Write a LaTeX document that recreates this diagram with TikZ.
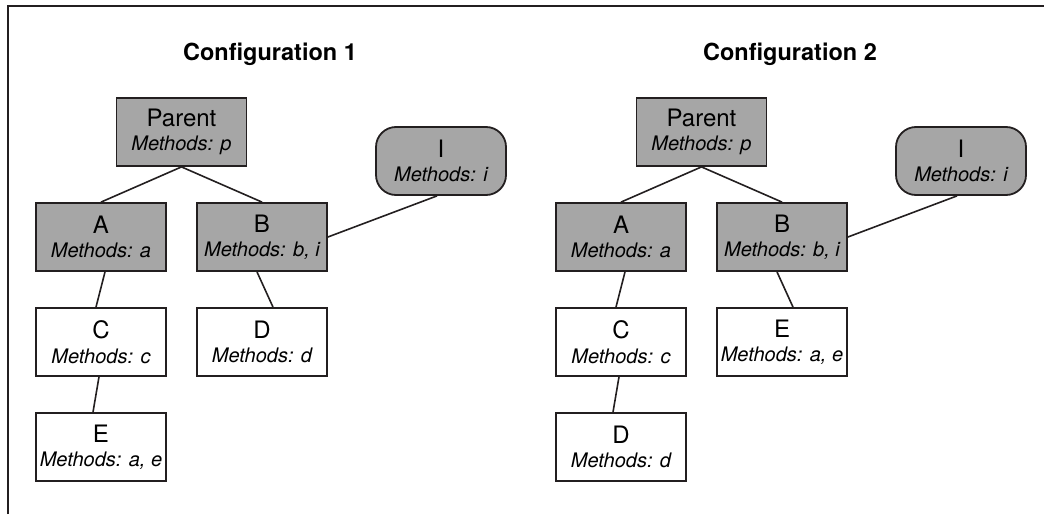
\documentclass[tikz,border=0pt]{standalone}
\usepackage{fontspec}
\setmainfont{TeX Gyre Heros}
\usetikzlibrary{shapes.geometric}
\definecolor{boxgray}{RGB}{166,166,166}
\definecolor{inkline}{RGB}{35,31,32}
\newcommand{\namefont}{\fontsize{24}{24.5}\selectfont}
\newcommand{\methfont}{\fontsize{20}{24.5}\selectfont\itshape}
\tikzstyle{block} = [rectangle, minimum width=130pt, minimum height=68pt, inner sep=2pt, align=center, draw=inkline, line width=1.8pt, font=\namefont]
\tikzstyle{shaded} = [block, fill=boxgray]
\tikzstyle{plain} = [block, fill=white]
\tikzstyle{iface} = [block, fill=boxgray, rounded corners=20pt]
\tikzstyle{title} = [anchor=base, font=\fontsize{23.5}{24}\selectfont\bfseries]
\tikzstyle{link} = [draw=inkline, line width=1.6pt]

\begin{document}
\begin{tikzpicture}[x=1pt, y=-1pt, node distance=105pt]
\useasboundingbox (0,0) rectangle (1044,514);
\draw [inkline, line width=1.8pt] (8,514) -- (8,6) -- (1044,6);

% Configuration 1
\node (titleone) [title] at (270,60) {Configuration 1};
\node (parentone) [shaded] at (181.5,132) {Parent\\{\methfont Methods: p}};
\node (aone) [shaded, below of=parentone, xshift=-80.5pt] {A\\{\methfont Methods: a}};
\node (bone) [shaded, node distance=161pt, right of=aone] {B\\{\methfont Methods: b, i}};
\node (ione) [iface, node distance=179pt, right of=bone, yshift=76pt] {I\\{\methfont Methods: i}};
\node (cone) [plain, below of=aone] {C\\{\methfont Methods: c}};
\node (done) [plain, below of=bone] {D\\{\methfont Methods: d}};
\node (eone) [plain, below of=cone] {E\\{\methfont Methods: a, e}};

\draw [link] (parentone.south) -- (aone.north);
\draw [link] (parentone.south) -- (bone.north);
\draw [link] (bone.east) -- ([xshift=-4pt]ione.south);
\draw [link] ([xshift=4pt]aone.south) -- ([xshift=-5pt]cone.north);
\draw [link] ([xshift=-2pt]cone.south) -- ([xshift=-8pt]eone.north);
\draw [link] ([xshift=-5pt]bone.south) -- ([xshift=11pt]done.north);

% Configuration 2
\node (titletwo) [title] at (790,60) {Configuration 2};
\node (parenttwo) [shaded] at (701.5,132) {Parent\\{\methfont Methods: p}};
\node (atwo) [shaded, below of=parenttwo, xshift=-80.5pt] {A\\{\methfont Methods: a}};
\node (btwo) [shaded, node distance=161pt, right of=atwo] {B\\{\methfont Methods: b, i}};
\node (itwo) [iface, node distance=179pt, right of=btwo, yshift=76pt] {I\\{\methfont Methods: i}};
\node (ctwo) [plain, below of=atwo] {C\\{\methfont Methods: c}};
\node (etwo) [plain, below of=btwo] {E\\{\methfont Methods: a, e}};
\node (dtwo) [plain, below of=ctwo] {D\\{\methfont Methods: d}};

\draw [link] (parenttwo.south) -- (atwo.north);
\draw [link] (parenttwo.south) -- (btwo.north);
\draw [link] (btwo.east) -- ([xshift=-4pt]itwo.south);
\draw [link] ([xshift=4pt]atwo.south) -- ([xshift=-5pt]ctwo.north);
\draw [link] ([xshift=-2pt]ctwo.south) -- ([xshift=-8pt]dtwo.north);
\draw [link] ([xshift=-5pt]btwo.south) -- ([xshift=11pt]etwo.north);

\end{tikzpicture}
\end{document}
